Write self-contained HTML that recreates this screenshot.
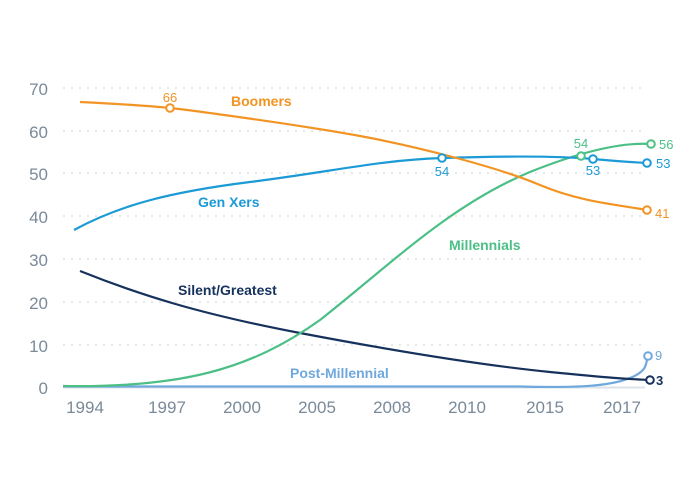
<!DOCTYPE html>
<html><head><meta charset="utf-8"><style>
html,body{margin:0;padding:0;background:#fff}
svg{display:block;font-family:"Liberation Sans",sans-serif}
</style></head><body>
<svg width="700" height="480" viewBox="0 0 700 480">
<g stroke="#d6d9dc" stroke-width="1.2" stroke-dasharray="2,6">
<line x1="63" y1="88" x2="645" y2="88"/><line x1="63" y1="131" x2="645" y2="131"/>
<line x1="63" y1="173" x2="645" y2="173"/><line x1="63" y1="216" x2="645" y2="216"/>
<line x1="63" y1="259" x2="645" y2="259"/><line x1="63" y1="302" x2="645" y2="302"/>
<line x1="63" y1="345" x2="645" y2="345"/>
</g>
<line x1="63" y1="387.5" x2="645" y2="387.5" stroke="#dde3e8" stroke-width="2"/>
<g fill="#7a8a99" font-size="17" text-anchor="end">
<text x="48" y="95">70</text><text x="48" y="138">60</text><text x="48" y="180">50</text>
<text x="48" y="223">40</text><text x="48" y="266">30</text><text x="48" y="309">20</text>
<text x="48" y="352">10</text><text x="48" y="394">0</text>
</g>
<g fill="#7a8a99" font-size="17" text-anchor="middle">
<text x="85" y="413">1994</text><text x="167" y="413">1997</text><text x="242" y="413">2000</text>
<text x="317" y="413">2005</text><text x="392" y="413">2008</text><text x="467" y="413">2010</text>
<text x="545" y="413">2015</text><text x="622" y="413">2017</text>
</g>
<g fill="none" stroke-width="2.2">
<path d="M63,386.5 L520,386.5 C580,388 610,386 630,378 S645,362 648,356" stroke="#6fa8dc"/>
<path d="M80,271 C140,295 200,314 300,333 S480,365 550,372 S630,379 650,380" stroke="#16325c"/>
<path d="M63,386 C180,388 250,370 320,320 C390,265 450,205 530,172 C580,152 620,142 651,144" stroke="#4bbf85"/>
<path d="M74,230 C120,205 170,192 250,182 S380,160 442,158 S560,156 593,159 S630,162 647,163" stroke="#1b9ad6"/>
<path d="M80,102 C120,104 150,106 170,108 S300,125 360,136 S500,168 540,185 S620,205 647,210" stroke="#f29423"/>
</g>
<g fill="#fff" stroke-width="2">
<circle cx="170" cy="108" r="3.8" stroke="#f29423"/><circle cx="647" cy="210" r="3.8" stroke="#f29423"/>
<circle cx="442" cy="158" r="3.8" stroke="#1b9ad6"/><circle cx="593" cy="159" r="3.8" stroke="#1b9ad6"/><circle cx="647" cy="163" r="3.8" stroke="#1b9ad6"/>
<circle cx="581" cy="156" r="3.8" stroke="#4bbf85"/><circle cx="651" cy="144" r="3.8" stroke="#4bbf85"/>
<circle cx="650" cy="380" r="3.8" stroke="#16325c"/><circle cx="648" cy="356" r="3.8" stroke="#6fa8dc"/>
</g>
<g font-size="13">
<text x="170" y="102" fill="#f29423" text-anchor="middle">66</text>
<text x="655" y="218" fill="#f29423">41</text>
<text x="442" y="176" fill="#1b9ad6" text-anchor="middle">54</text>
<text x="593" y="175" fill="#1b9ad6" text-anchor="middle">53</text>
<text x="656" y="168" fill="#1b9ad6">53</text>
<text x="581" y="148" fill="#4bbf85" text-anchor="middle">54</text>
<text x="659" y="149" fill="#4bbf85">56</text>
<text x="656" y="385" fill="#16325c" font-weight="bold">3</text>
<text x="655" y="360" fill="#6fa8dc">9</text>
</g>
<g font-size="14" font-weight="bold">
<text x="231" y="106" fill="#f29423">Boomers</text>
<text x="198" y="207" fill="#1b9ad6">Gen Xers</text>
<text x="449" y="250" fill="#4bbf85">Millennials</text>
<text x="178" y="295" fill="#16325c">Silent/Greatest</text>
<text x="290" y="378" fill="#6fa8dc">Post-Millennial</text>
</g>
</svg>
</body></html>
